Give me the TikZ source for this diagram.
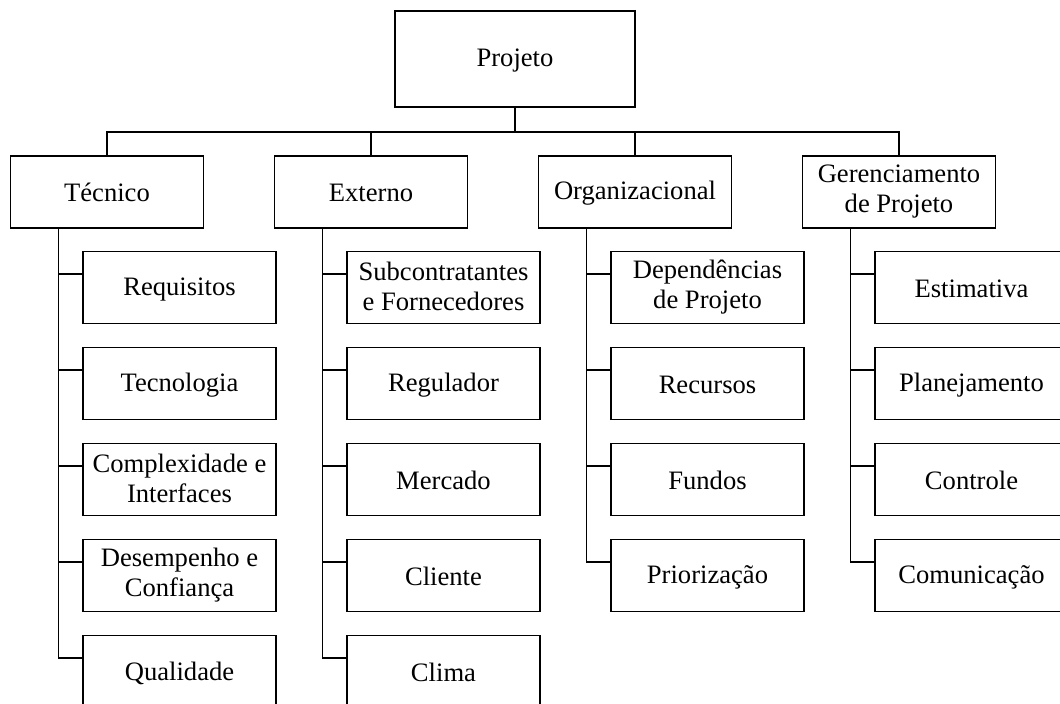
\documentclass[tikz,border=0pt]{standalone}
\usepackage{fontspec}
\setmainfont{Liberation Serif}
\usetikzlibrary{calc}
% invisible strut that fixes every text line's height and depth
\newcommand\ls{\rule[-1.25pt]{0pt}{12pt}}
\begin{document}
\begin{tikzpicture}[x=0.5pt,y=-0.5pt,
  box/.style={draw, line width=0.9pt, inner sep=0pt, minimum width=96.5pt,
    minimum height=36pt, align=center, font=\fontsize{13.3}{15}\selectfont,
    execute at begin node=\ls},
  link/.style={line width=0.9pt}]
\useasboundingbox (0,0) rectangle (1060,703);
\clip (0,0) rectangle (1060,703);

% root
\node[box, minimum width=120pt, minimum height=48pt] (P) at (515,59) {Projeto};
\coordinate (bus) at (515,132);

% first level
\node[box] (T) at (107,191.75) {Técnico};
\node[box] (E) at (371,191.75) {Externo};
\node[box] (O) at (635,191.75) {Organizacional};
\node[box] (G) at (899,191.75) {Gerenciamento\\\ls de Projeto};

\draw[link] (P.south) -- (bus);
\foreach \n in {T,E,O,G}{
  \draw[link] (bus) -| (\n.north);
}

% spine tops (below each first-level box)
\coordinate (Ts) at (58.5,228);
\coordinate (Es) at (322.5,228);
\coordinate (Os) at (586.5,228);
\coordinate (Gs) at (850.5,228);

% technical
\node[box] (T1) at (179.5,287.5) {Requisitos};
\node[box] (T2) at (179.5,383.5) {Tecnologia};
\node[box] (T3) at (179.5,479.5) {Complexidade e\\\ls Interfaces};
\node[box] (T4) at (179.5,575.5) {Desempenho e\\\ls Confiança};
\node[box] (T5) at (179.5,671.5) {Qualidade};

% external
\node[box] (E1) at (443.5,287.5) {Subcontratantes\\\ls e Fornecedores};
\node[box] (E2) at (443.5,383.5) {Regulador};
\node[box] (E3) at (443.5,479.5) {Mercado};
\node[box] (E4) at (443.5,575.5) {Cliente};
\node[box] (E5) at (443.5,671.5) {Clima};

% organizational
\node[box] (O1) at (707.5,287.5) {Dependências\\\ls de Projeto};
\node[box] (O2) at (707.5,383.5) {Recursos};
\node[box] (O3) at (707.5,479.5) {Fundos};
\node[box] (O4) at (707.5,575.5) {Priorização};

% project management
\node[box] (G1) at (971.5,287.5) {Estimativa};
\node[box] (G2) at (971.5,383.5) {Planejamento};
\node[box] (G3) at (971.5,479.5) {Controle};
\node[box] (G4) at (971.5,575.5) {Comunicação};

% branches from the spines
\foreach \c/\k in {T/5,E/5,O/4,G/4}{
  \foreach \i in {1,...,\k}{
    \draw[link] ($(\c\i.north west)+(0,23.5)$) -| (\c s);
  }
}
\end{tikzpicture}
\end{document}
